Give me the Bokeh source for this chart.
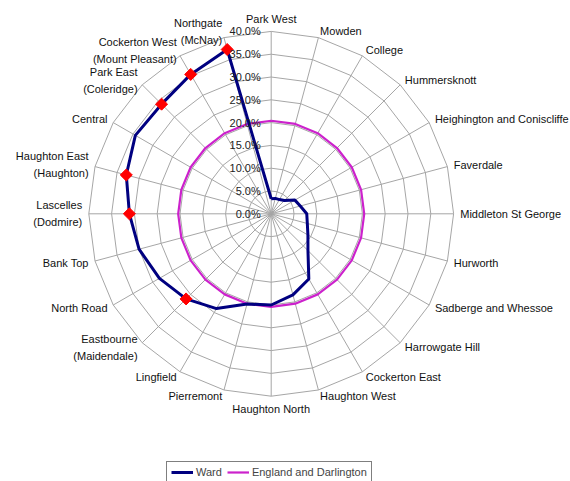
import numpy as np
from bokeh.plotting import figure
from bokeh.models import Range1d, ColumnDataSource, Legend, LegendItem
from bokeh.core.properties import value
from bokeh.embed import file_html
from bokeh.resources import INLINE

categories = [
    "Park West", "Mowden", "College", "Hummersknott", "Heighington and Coniscliffe",
    "Faverdale", "Middleton St George", "Hurworth", "Sadberge and Whessoe",
    "Harrowgate Hill", "Cockerton East", "Haughton West", "Haughton North",
    "Pierremont", "Lingfield", "Eastbourne\n(Maidendale)", "North Road", "Bank Top",
    "Lascelles\n(Dodmire)", "Haughton East\n(Haughton)", "Central",
    "Park East\n(Coleridge)", "Cockerton West\n(Mount Pleasant)", "Northgate\n(McNay)",
]
ward = [3.3, 3.5, 3.6, 4.1, 6.0, 6.6, 7.8, 8.2, 9.3, 11.4, 16.5, 18.4,
        20.0, 20.5, 24.0, 26.4, 28.3, 30.0, 31.1, 32.9, 34.4, 34.0, 35.3, 37.3]
england_darlington = [20.4] * 24
flagged = [15, 18, 19, 21, 22, 23]   # wards marked with red diamonds
ring_values = [0, 5, 10, 15, 20, 25, 30, 35, 40]
ring_labels = ["0.0%", "5.0%", "10.0%", "15.0%", "20.0%", "25.0%", "30.0%", "35.0%", "40.0%"]

n = len(categories)
ang = np.arange(n) * 2 * np.pi / n   # clockwise from top
sx, cy = np.sin(ang), np.cos(ang)

W, H = 570, 481
scale = 4.56
cxp, cyp = 270.7, 213.3
p = figure(width=W, height=H, output_backend="svg", toolbar_location=None,
           x_range=Range1d(-cxp / scale, (W - cxp) / scale),
           y_range=Range1d(-(H - cyp) / scale, cyp / scale),
           min_border=0, outline_line_color=None)
p.axis.visible = False
p.grid.visible = False
p.background_fill_color = "white"
p.border_fill_color = "white"

grid_col = "#a6a6a6"
rmax = ring_values[-1]
# spokes
p.segment(x0=[0] * n, y0=[0] * n, x1=list(rmax * sx), y1=list(rmax * cy),
          line_color=grid_col, line_width=1)
# rings (polygons)
for r in ring_values[1:]:
    xs = list(r * sx) + [r * sx[0]]
    ys = list(r * cy) + [r * cy[0]]
    p.line(xs, ys, line_color=grid_col, line_width=1)

# series
ed = np.array(england_darlington)
r_ed = p.line(list(ed * sx) + [ed[0] * sx[0]], list(ed * cy) + [ed[0] * cy[0]],
              line_color="#cc22cc", line_width=2.2)
wv = np.array(ward)
r_w = p.line(list(wv * sx) + [wv[0] * sx[0]], list(wv * cy) + [wv[0] * cy[0]],
             line_color="#000080", line_width=3, line_join="round")
p.scatter([wv[i] * sx[i] for i in flagged], [wv[i] * cy[i] for i in flagged],
          marker="square", angle=np.pi / 4, size=8.5, fill_color="#ff0000",
          line_color="#ff0000")

# tick labels
p.text(x=[-2.3] * len(ring_values), y=ring_values, text=ring_labels,
       text_align="right", text_baseline="middle", text_font=value("Liberation Sans"),
       text_font_size="11px", text_color="#222222")

# category labels
lr = 41.45
lx, ly, al, bl = [], [], [], []
for i in range(n):
    lx.append(lr * sx[i]); ly.append(lr * cy[i])
    if sx[i] > 0.01:
        al.append("left")
    elif sx[i] < -0.01:
        al.append("right")
    else:
        al.append("center")
    if abs(sx[i]) < 0.01:
        bl.append("bottom" if cy[i] > 0 else "top")
    else:
        bl.append("middle")
src = ColumnDataSource(dict(x=lx, y=ly, t=categories, a=al, b=bl))
p.text(x="x", y="y", text="t", text_align="a", text_baseline="b", source=src,
       text_font=value("Liberation Sans"), text_font_size="11px",
       text_color="#111111", text_line_height=1.4)

legend = Legend(items=[LegendItem(label="Ward", renderers=[r_w]),
                       LegendItem(label="England and Darlington", renderers=[r_ed])],
                orientation="horizontal", location=(166, -2), margin=0, padding=4,
                spacing=5, glyph_width=22, glyph_height=12, label_height=12,
                label_standoff=3, label_text_font="Liberation Sans",
                label_text_font_size="11px", border_line_color="black",
                border_line_width=1, background_fill_color="white",
                background_fill_alpha=1)
p.add_layout(legend, "center")

open("out.html", "w").write(file_html(p, INLINE))
